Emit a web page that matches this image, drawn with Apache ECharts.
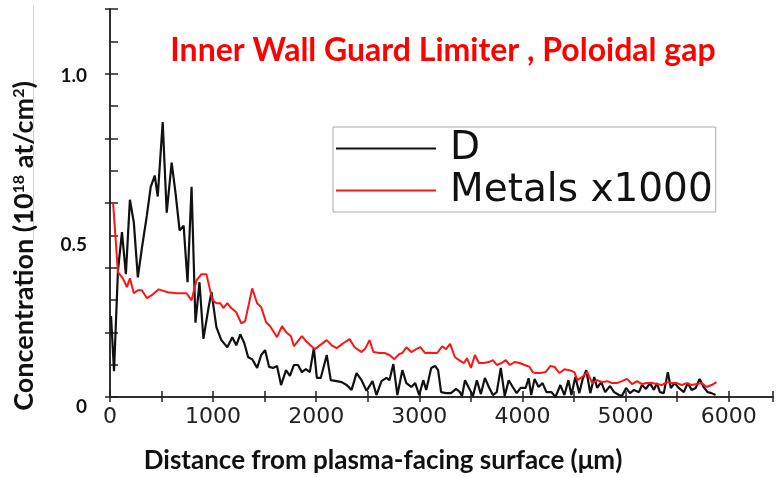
<!DOCTYPE html>
<html>
<head>
<meta charset="utf-8">
<script src="https://cdn.jsdelivr.net/npm/echarts@6/dist/echarts.min.js"></script>
<style>html,body{margin:0;padding:0;background:#fff}#c{width:776px;height:477px}</style>
</head>
<body>
<div id="c"></div>
<script>
// Deuterium profile: [distance µm, concentration 1e18 at/cm2]
const dProfile = [[10,0.25],[39,0.08],[77,0.39],[116,0.51],[154,0.38],[193,0.61],[231,0.54],[270,0.37],[309,0.46],[357,0.56],[395,0.65],[434,0.685],[463,0.62],[511,0.85],[550,0.57],[598,0.725],[636,0.63],[675,0.515],[714,0.53],[752,0.355],[791,0.65],[829,0.23],[868,0.355],[906,0.18],[955,0.275],[984,0.325],[1032,0.216],[1080,0.176],[1138,0.154],[1186,0.185],[1225,0.16],[1263,0.194],[1302,0.167],[1340,0.123],[1379,0.117],[1427,0.09],[1466,0.13],[1504,0.145],[1543,0.093],[1581,0.09],[1620,0.096],[1659,0.037],[1707,0.083],[1745,0.065],[1784,0.099],[1823,0.099],[1861,0.077],[1900,0.086],[1938,0.077],[1977,0.151],[2006,0.059],[2044,0.059],[2102,0.13],[2141,0.052],[2198,0.049],[2247,0.046],[2295,0.037],[2343,0.022],[2391,0.074],[2440,0.052],[2488,0.019],[2546,0.049],[2584,0.006],[2633,0.049],[2681,0.059],[2710,0.052],[2748,0.102],[2787,0.006],[2835,0.083],[2874,0.043],[2922,0.031],[2960,0.043],[2999,0.006],[3038,0.052],[3067,0.022],[3115,0.09],[3153,0.096],[3182,0.083],[3211,0.015],[3259,0.012],[3307,0.012],[3356,0.025],[3394,0.015],[3414,0.003],[3443,0.052],[3491,0.022],[3520,0.003],[3558,0.052],[3597,0.009],[3636,0.059],[3674,0.031],[3713,0.006],[3751,0.015],[3790,0.09],[3828,0.003],[3867,0.052],[3906,0.031],[3944,0.012],[3983,0.028],[4031,0.028],[4060,0.058],[4085,0.006],[4118,0.056],[4156,0.031],[4195,0.043],[4233,0.015],[4282,0.015],[4320,0.0],[4368,0.037],[4407,0.006],[4446,0.052],[4475,0.006],[4513,0.062],[4552,0.012],[4581,0.052],[4619,0.083],[4658,0.012],[4696,0.062],[4725,0.028],[4764,0.046],[4802,0.015],[4850,0.034],[4889,0.015],[4937,0.006],[4966,0.004],[5005,0.028],[5043,0.012],[5082,0.022],[5130,0.015],[5159,0.037],[5198,0.025],[5236,0.043],[5275,0.022],[5304,0.043],[5333,0.015],[5371,0.012],[5410,0.077],[5439,0.028],[5477,0.043],[5516,0.028],[5565,0.015],[5603,0.043],[5641,0.022],[5680,0.028],[5718,0.056],[5757,0.031],[5796,0.015],[5834,0.012],[5873,0.006]];

// Metals profile (x1000): [distance µm, concentration]
const metalsProfile = [[30,0.60],[77,0.386],[125,0.367],[164,0.34],[193,0.367],[231,0.321],[270,0.33],[309,0.33],[357,0.306],[405,0.315],[473,0.333],[559,0.324],[646,0.321],[742,0.321],[791,0.299],[839,0.361],[887,0.38],[935,0.38],[993,0.30],[1032,0.29],[1070,0.29],[1099,0.275],[1138,0.29],[1176,0.275],[1225,0.262],[1273,0.228],[1311,0.235],[1379,0.336],[1427,0.29],[1466,0.278],[1514,0.231],[1553,0.219],[1620,0.185],[1668,0.219],[1707,0.201],[1755,0.188],[1784,0.157],[1861,0.188],[1909,0.17],[1987,0.148],[2044,0.162],[2102,0.176],[2150,0.16],[2198,0.151],[2266,0.167],[2324,0.179],[2372,0.154],[2440,0.139],[2478,0.151],[2517,0.176],[2555,0.139],[2613,0.136],[2662,0.136],[2710,0.13],[2758,0.117],[2806,0.133],[2835,0.136],[2874,0.154],[2922,0.139],[2970,0.148],[3009,0.154],[3057,0.136],[3105,0.137],[3134,0.136],[3173,0.136],[3221,0.157],[3259,0.148],[3298,0.164],[3346,0.123],[3385,0.114],[3433,0.105],[3462,0.12],[3501,0.09],[3539,0.13],[3578,0.105],[3626,0.105],[3674,0.108],[3713,0.114],[3751,0.099],[3799,0.105],[3838,0.114],[3877,0.099],[3925,0.108],[3973,0.105],[4021,0.099],[4069,0.093],[4100,0.077],[4127,0.074],[4176,0.074],[4224,0.077],[4272,0.096],[4311,0.093],[4359,0.074],[4407,0.086],[4455,0.083],[4504,0.077],[4532,0.052],[4581,0.062],[4629,0.077],[4677,0.043],[4725,0.052],[4773,0.046],[4822,0.049],[4870,0.043],[4918,0.043],[4966,0.049],[5014,0.056],[5063,0.04],[5111,0.049],[5159,0.04],[5207,0.043],[5256,0.043],[5304,0.04],[5352,0.037],[5400,0.046],[5448,0.043],[5497,0.043],[5545,0.037],[5593,0.043],[5641,0.037],[5690,0.04],[5738,0.043],[5786,0.031],[5834,0.037],[5882,0.046]];

const seriesNames = ['D', 'Metals x1000'];
const xTickLabels = ['0','1000','2000','3000','4000','5000','6000'];
const yTickLabels = ['0','0.5','1.0'];
const chartTitle = 'Inner Wall Guard Limiter , Poloidal gap';
const xTitle = 'Distance from plasma-facing surface (\u03bcm)';
const yTitle = 'Concentration (10{sup|18} at/cm{sup|2})';

const chart = echarts.init(document.getElementById('c'), null, {renderer: 'canvas'});
const axisColor = '#222';
const option = {
  animation: false,
  backgroundColor: '#fff',
  grid: {left: 110, top: 9, right: -1, bottom: 80, containLabel: false},
  legend: {
    orient: 'vertical', left: 333, top: 127,
    padding: [2, 3, 2, 3], itemGap: 3,
    icon: 'rect', itemWidth: 100, itemHeight: 2,
    borderColor: '#aaa', borderWidth: 1,
    textStyle: {fontFamily: 'DejaVu Sans', fontSize: 39, color: '#111', padding: [0, 0, 0, 9]},
    data: seriesNames
  },
  xAxis: [{
    type: 'value', position: 'bottom', min: 0, max: 6430, interval: 500,
    axisLine: {show: true, lineStyle: {color: axisColor, width: 1.5}},
    axisTick: {show: true, inside: true, length: 6, lineStyle: {color: axisColor, width: 1.5}},
    splitLine: {show: false},
    axisLabel: {
      margin: 9, color: '#222', fontFamily: 'DejaVu Sans', fontSize: 22,
      formatter: v => { const s = String(Math.round(v)); return (Math.round(v) % 1000 === 0 && xTickLabels.indexOf(s) >= 0) ? s : ''; }
    }
  }, {
    type: 'value', position: 'top', min: 0, max: 6430, interval: 500,
    axisLine: {show: true, lineStyle: {color: axisColor, width: 1.5}},
    axisTick: {show: true, inside: true, length: 5, lineStyle: {color: axisColor, width: 1.5}},
    axisLabel: {show: false}, splitLine: {show: false}
  }],
  yAxis: [{
    type: 'value', position: 'left', min: 0, max: 1.2, interval: 0.1,
    axisLine: {show: true, lineStyle: {color: axisColor, width: 1.5}},
    axisTick: {show: true, inside: true, length: 8, lineStyle: {color: axisColor, width: 1.5}},
    splitLine: {show: false},
    axisLabel: {
      margin: 23, color: '#111', fontFamily: 'Lato', fontWeight: 'bold', fontSize: 19,
      formatter: v => {
        const r = Math.round(v * 10);
        const s = r === 0 ? yTickLabels[0] : r === 5 ? yTickLabels[1] : r === 10 ? yTickLabels[2] : '';
        if (!s) return '';
        return r === 10 ? '{a|' + s + '}' : '{b|' + s + '}';
      },
      rich: {
        a: {fontFamily: 'Lato', fontWeight: 'bold', fontSize: 19, color: '#111', padding: [4, 0, 0, 0]},
        b: {fontFamily: 'Lato', fontWeight: 'bold', fontSize: 19, color: '#111', padding: [19, 0, 0, 0]}
      }
    }
  }, {
    type: 'value', position: 'right', min: 0, max: 1.2, interval: 0.2,
    axisLine: {show: true, lineStyle: {color: axisColor, width: 1.5}},
    axisTick: {show: true, inside: true, length: 5, lineStyle: {color: axisColor, width: 1.5}},
    axisLabel: {show: false}, splitLine: {show: false}
  }],
  series: [{
    name: seriesNames[0], type: 'line', data: dProfile, xAxisIndex: 0, yAxisIndex: 0,
    symbol: 'none', lineStyle: {color: '#111', width: 2.2}, itemStyle: {color: '#111'}, z: 3
  }, {
    name: seriesNames[1], type: 'line', data: metalsProfile, xAxisIndex: 0, yAxisIndex: 0,
    symbol: 'none', lineStyle: {color: '#ff1414', width: 2}, itemStyle: {color: '#ff1414'}, z: 4
  }],
  graphic: [
    {type: 'line', shape: {x1: 33.5, y1: 5, x2: 33.5, y2: 240}, style: {stroke: '#d0d0d0', lineWidth: 1}, silent: true},
    {type: 'text', x: 443, y: 51, style: {text: chartTitle, fill: '#ff0000', font: 'bold 32px Lato', align: 'center', verticalAlign: 'middle'}},
    {type: 'text', x: 383, y: 461, style: {text: xTitle, fill: '#111', font: 'bold 26px Lato', align: 'center', verticalAlign: 'middle'}},
    {type: 'text', x: 24, y: 246, rotation: Math.PI / 2, style: {
      text: yTitle, fill: '#111', font: 'bold 27px Lato', align: 'center', verticalAlign: 'middle',
      rich: {sup: {font: 'bold 16px Lato', fill: '#111', verticalAlign: 'top'}}
    }}
  ]
};
chart.setOption(option);
</script>
</body>
</html>
